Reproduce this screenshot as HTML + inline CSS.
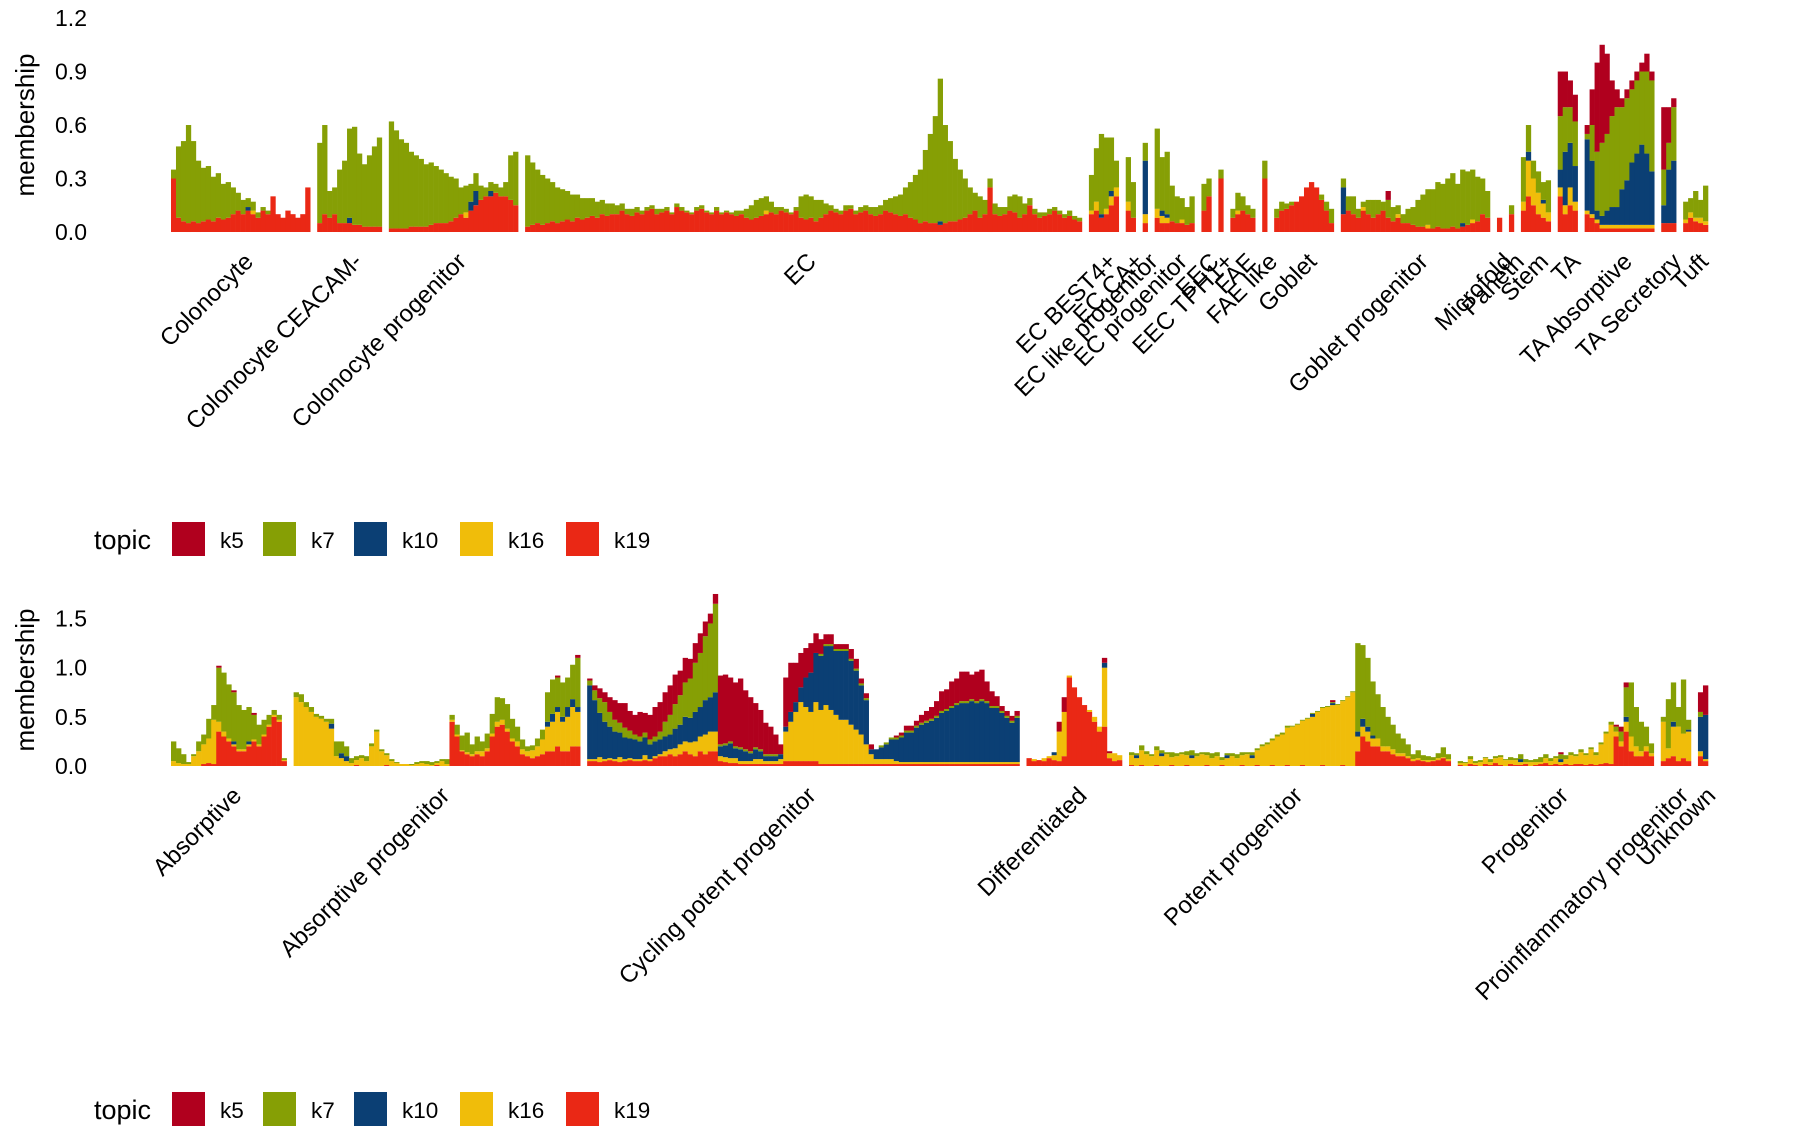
<!DOCTYPE html>
<html><head><meta charset="utf-8"><title>Topic membership by cell type</title>
<style>
html,body{margin:0;padding:0;background:#fff;}
svg{display:block;font-family:"Liberation Sans",Arial,sans-serif;}
</style></head>
<body>
<svg id="chart" width="1800" height="1140" viewBox="0 0 1800 1140" xmlns="http://www.w3.org/2000/svg"></svg>
<script>
// ---------- shared ----------
var topics = ["k5","k7","k10","k16","k19"];
var topicColors = ["#B0001E","#869F05","#0B3F74","#F0BD0A","#EA2815"];

// ---------- top chart data ----------
var topGroups = ["Colonocyte","Colonocyte CEACAM-","Colonocyte progenitor","EC","EC BEST4+","EC CA+","EC like progenitor","EC progenitor","EEC","EEC TPH1+","FAE","FAE like","Goblet","Goblet progenitor","Microfold","Paneth","Stem","TA","TA Absorptive","TA Secretory","Tuft"];
var topCounts = [28,13,26,112,6,2,1,8,2,1,5,1,12,30,1,1,6,4,14,3,5];
var topTicks = [0,0.3,0.6,0.9,1.2];
var topTickLabels = ["0.0","0.3","0.6","0.9","1.2"];
var topK19 = [
0.3,0.08,0.06,0.05,0.06,0.05,0.06,0.07,0.06,0.08,0.07,0.08,0.1,0.12,0.1,0.12,0.1,0.08,0.12,0.1,0.2,0.1,0.08,0.12,0.1,0.08,0.1,0.25,
0.05,0.1,0.08,0.1,0.05,0.05,0.05,0.04,0.04,0.03,0.03,0.03,0.03,
0.02,0.02,0.02,0.02,0.03,0.03,0.03,0.03,0.04,0.05,0.05,0.05,0.06,0.08,0.1,0.08,0.12,0.15,0.18,0.2,0.2,0.22,0.2,0.2,0.18,0.15,
0.03,0.04,0.05,0.04,0.05,0.06,0.05,0.06,0.07,0.06,0.08,0.07,0.08,0.09,0.08,0.1,0.09,0.1,
0.1,0.12,0.1,0.09,0.11,0.1,0.12,0.13,0.1,0.11,0.12,0.1,0.14,0.12,0.11,0.1,0.12,0.13,0.11,0.1,0.12,0.1,0.11,0.1,0.09,0.1,0.08,0.07,0.08,0.09,0.1,0.11,0.1,0.12,0.11,0.1,0.12,
0.08,0.07,0.08,0.06,0.08,0.1,
0.12,0.11,0.1,0.12,0.13,0.1,0.11,0.12,0.1,0.09,0.1,0.12,0.11,0.1,0.09,0.1,0.08,0.07,
0.05,0.06,0.05,0.05,0.04,0.05,0.06,0.06,0.07,0.08,
0.1,0.12,0.08,0.1,0.25,0.1,0.09,0.1,0.12,0.11,0.08,0.1,0.15,0.1,0.08,0.09,0.1,0.12,0.1,0.08,0.09,0.07,0.06,
0.1,0.12,0.08,0.1,0.15,0.2,
0.12,0.08,
0.05,
0.08,0.05,0.05,0.06,0.05,0.05,0.04,0.05,
0.12,0.2,
0.3,
0.08,0.1,0.12,0.1,0.08,
0.3,
0.08,0.12,0.13,0.15,0.17,0.2,0.25,0.28,0.25,0.18,0.12,0.05,
0.1,0.12,0.1,0.08,0.12,0.1,0.08,0.1,0.12,0.08,0.06,0.08,0.05,0.05,0.04,0.03,0.03,0.02,0.02,0.03,0.02,0.02,0.03,0.02,0.03,0.04,0.05,0.06,0.1,0.08,
0.08,
0.1,
0.12,0.2,0.15,0.1,0.08,0.06,
0.2,0.1,0.15,0.12,
0.1,0.08,0.05,0.02,0.02,0.02,0.02,0.02,0.02,0.02,0.02,0.02,0.02,0.02,
0.05,0.05,0.05,
0.05,0.08,0.06,0.05,0.04];
var topK16 = [
0,0,0,0,0,0,0,0,0,0,0,0,0,0,0,0,0.02,0,0,0,0,0,0,0,0,0,0,0,
0,0,0,0,0,0,0,0,0,0,0,0,0,
0,0,0,0,0,0,0,0,0,0,0,0,0,0,0,0.03,0,0,0,0,0,0,0,0,0,0,
0,0,0,0,0,0,0,0,0,0,0,0,0,0,0,0,0,0,
0,0,0,0,0,0,0,0,0,0,0,0,0,0,0,0,0,0,0,0,0,0,0,0,0,0,0,0,0,0,0.02,0,0,0,0,0,0,
0,0,0,0,0,0,
0,0,0,0,0,0,0,0,0,0,0,0,0,0,0,0,0,0,
0,0,0,0,0,0,0,0,0,0,
0,0,0,0,0,0,0,0,0,0,0,0,0,0,0,0,0,0,0,0,0,0,0,
0.02,0.05,0,0.03,0.05,0.05,
0.05,0,
0.05,
0.05,0.04,0.03,0,0,0.02,0,0,
0,0,
0,
0,0.02,0,0,0,
0,
0,0,0,0,0,0,0,0,0,0,0,0,
0,0,0,0,0.02,0,0,0,0,0,0,0.02,0,0,0,0,0,0.02,0,0,0,0,0,0,0,0,0.02,0,0,0,
0,
0,
0.05,0.2,0.15,0.12,0.08,0.05,
0.05,0.05,0.1,0.05,
0.02,0.02,0.02,0.02,0.02,0.02,0.02,0.02,0.02,0.02,0.02,0.02,0.02,0.02,
0,0,0,
0.02,0.03,0.02,0.03,0.02];
var topK10 = [
0,0,0,0,0,0,0,0,0,0,0,0,0,0,0,0.02,0,0,0,0,0,0,0,0,0,0,0,0,
0,0,0,0,0,0,0.03,0,0,0,0,0,0,
0,0,0,0,0,0,0,0,0,0,0,0,0,0,0,0,0.05,0.08,0,0,0.03,0,0,0,0,0,
0,0,0,0,0,0,0,0,0,0,0,0,0,0,0,0,0,0,
0,0,0,0,0,0,0,0,0,0,0,0,0,0,0,0,0,0,0,0,0,0,0,0,0,0,0,0,0,0,0,0,0,0,0,0,0,
0,0,0,0,0,0,
0,0,0,0,0,0,0,0,0,0,0,0,0,0,0,0,0,0,
0,0,0,0,0.02,0,0,0,0,0,
0,0,0,0,0,0,0,0,0,0,0,0,0,0,0,0,0,0,0,0,0,0,0,
0,0,0.02,0,0.03,0,
0,0,
0.3,
0,0.03,0.02,0,0,0,0,0,
0,0,
0,
0,0,0,0,0,
0,
0,0,0,0,0,0,0,0,0,0,0,0,
0.15,0,0,0,0,0,0,0,0,0,0,0,0,0,0,0,0,0,0,0,0,0,0,0,0.02,0,0,0,0,0,
0,
0,
0,0.05,0,0,0.02,0,
0.1,0.3,0.25,0.2,
0.4,0.3,0.05,0.05,0.08,0.1,0.1,0.2,0.25,0.35,0.4,0.45,0.4,0.3,
0.1,0.3,0.35,
0,0,0,0,0];
var topK7 = [
0.05,0.4,0.45,0.55,0.45,0.35,0.3,0.3,0.25,0.25,0.2,0.2,0.15,0.1,0.08,0.05,0.05,0.03,0.02,0.02,0,0,0,0,0,0,0,0,
0.45,0.5,0.15,0.15,0.3,0.35,0.5,0.55,0.4,0.35,0.4,0.45,0.5,
0.6,0.55,0.5,0.48,0.42,0.4,0.38,0.35,0.35,0.32,0.3,0.28,0.25,0.22,0.15,0.15,0.1,0.1,0.08,0.05,0.05,0.05,0.05,0.08,0.25,0.3,
0.4,0.35,0.3,0.28,0.25,0.22,0.2,0.18,0.16,0.15,0.13,0.12,0.11,0.1,0.09,0.08,0.07,0.06,
0.05,0.04,0.03,0.04,0.03,0.02,0.02,0.02,0.03,0.02,0.02,0.01,0.02,0.02,0.01,0.01,0.02,0.02,0.01,0.01,0.02,0.01,0.01,0.01,0.03,0.02,0.05,0.08,0.1,0.1,0.08,0.06,0.04,0.02,0.02,0.01,0.02,
0.12,0.14,0.12,0.12,0.1,0.06,
0.03,0.02,0.02,0.03,0.02,0.02,0.03,0.03,0.04,0.05,0.05,0.06,0.08,0.1,0.12,0.15,0.2,0.25,
0.3,0.4,0.5,0.6,0.8,0.55,0.45,0.35,0.28,0.22,
0.15,0.1,0.12,0.08,0.05,0.06,0.05,0.04,0.08,0.1,0.12,0.06,0.04,0.03,0.03,0.02,0.03,0.02,0.02,0.02,0.03,0.02,0.02,
0.2,0.3,0.45,0.4,0.3,0.15,
0.25,0.2,
0.1,
0.45,0.3,0.35,0.2,0.15,0.12,0.1,0.15,
0.15,0.1,
0.05,
0.05,0.1,0.08,0.05,0.05,
0.1,
0.05,0.05,0.03,0.02,0,0,0,0,0,0.03,0.05,0.08,
0.05,0.08,0.1,0.05,0.03,0.08,0.1,0.08,0.05,0.1,0.08,0.05,0.05,0.08,0.1,0.15,0.18,0.2,0.22,0.25,0.25,0.28,0.3,0.25,0.3,0.3,0.28,0.25,0.2,0.15,
0,
0.05,
0.25,0.15,0.1,0.12,0.1,0.18,
0.3,0.25,0.2,0.25,
0.03,0.2,0.33,0.41,0.43,0.51,0.56,0.46,0.46,0.41,0.41,0.41,0.46,0.51,
0.2,0.15,0.3,
0.1,0.08,0.15,0.1,0.2];
var topK5 = [
0,0,0,0,0,0,0,0,0,0,0,0,0,0,0,0,0,0,0,0,0,0,0,0,0,0,0,0,
0,0,0,0,0,0,0,0,0,0,0,0,0,
0,0,0,0,0,0,0,0,0,0,0,0,0,0,0,0,0,0,0,0,0,0,0,0,0,0,
0,0,0,0,0,0,0,0,0,0,0,0,0,0,0,0,0,0,
0,0,0,0,0,0,0,0,0,0,0,0,0,0,0,0,0,0,0,0,0,0,0,0,0,0,0,0,0,0,0,0,0,0,0,0,0,
0,0,0,0,0,0,
0,0,0,0,0,0,0,0,0,0,0,0,0,0,0,0,0,0,
0,0,0,0,0,0,0,0,0,0,
0,0,0,0,0,0,0,0,0,0,0,0,0,0,0,0,0,0,0,0,0,0,0,
0,0,0,0,0,0,
0,0,
0,
0,0,0,0,0,0,0,0,
0,0,
0,
0,0,0,0,0,
0,
0,0,0,0,0,0,0,0,0,0,0,0,
0,0,0,0,0,0,0,0,0,0.05,0,0,0,0,0,0,0,0,0,0,0,0,0,0,0,0,0,0,0,0,
0,
0,
0,0,0,0,0,0,
0.25,0.2,0.15,0.15,
0.05,0.2,0.5,0.55,0.45,0.2,0.1,0.05,0.05,0.05,0.05,0.05,0.1,0.05,
0.35,0.2,0.05,
0,0,0,0,0];

// ---------- bottom chart data ----------
var botGroups = ["Absorptive","Absorptive progenitor","Cycling potent progenitor","Differentiated","Potent progenitor","Progenitor","Proinflammatory progenitor","Unknown"];
var botCounts = [23,57,86,19,64,39,6,2];
var botTicks = [0,0.5,1.0,1.5];
var botTickLabels = ["0.0","0.5","1.0","1.5"];
var botK19 = [
0,0,0,0,0,0,0.02,0.03,0.02,0.35,0.3,0.25,0.2,0.15,0.15,0.2,0.25,0.2,0.3,0.4,0.5,0.45,0.05,
0,0,0,0,0,0,0,0,0,0,0,0,0.01,0,0,0,0,0,0.01,0,0,0,0,0,0,0,0,0,0.01,0,0,
0.45,0.3,0.15,0.12,0.1,0.12,0.1,
0.15,0.3,0.4,0.42,0.35,0.25,0.2,0.12,
0.1,0.08,0.1,0.12,
0.15,0.15,0.2,0.15,0.15,0.2,0.2,
0.05,0.05,0.04,0.05,0.06,0.05,0.04,0.05,0.06,0.05,0.05,0.06,0.05,0.08,0.1,
0.1,0.12,0.1,0.12,0.15,0.12,0.1,0.15,0.12,0.15,0.15,
0.05,0.04,0.03,0.03,0.02,0.02,0.02,0.02,0.02,0.02,0.02,0.02,
0.02,
0.05,0.05,0.05,0.05,0.05,0.05,0.05,
0.02,0.02,0.02,0.02,0.02,0.02,0.02,0.02,0.02,0.02,
0.02,0.02,
0.02,0.02,0.02,0.02,0.02,0.02,0.02,0.02,0.02,0.02,0.02,0.02,0.02,0.02,0.02,0.02,0.02,0.02,0.02,0.02,0.02,0.02,0.02,0.02,0.02,0.02,0.02,0.02,
0.08,0.05,0.06,0.05,0.08,0.06,0.05,0.1,0.9,0.8,0.7,0.62,0.55,0.45,0.35,0.4,0.08,0.05,0.06,
0.01,0,0.01,0,0,0.01,0,0,0.01,0,0,0.01,0,0,0,0.01,0,0,0.01,0,0,0,0.01,0,0,0.01,
0,0,0.01,0,0,0.01,
0,0,0.01,0,0,0,0.01,0,0,0,0.01,0,0,
0.15,0.3,0.25,0.2,
0.2,0.15,0.15,0.12,0.1,0.1,0.08,
0.05,0.06,0.05,0.04,0.05,0.06,0.08,0.05,
0.01,0,0.02,0.01,0,0.02,0.01,0.03,0.01,0,0.02,0.01,0.01,0.02,0,0.01,0.02,0.03,0.01,0.02,0.01,0.02,0.01,0.02,0.02,0.01,0.02,0.01,
0.02,0.03,0.02,
0.3,0.2,0.35,0.15,0.1,0.1,0.15,0.1,
0.05,0.08,0.1,0.05,0.08,0.05,
0.1,0.05];
var botK16 = [
0.05,0.03,0.02,0.02,0.1,0.15,0.2,0.25,0.45,0.1,0.05,0.03,0.02,0.02,0.02,0.02,0.02,0.02,0.02,0.02,0.02,0.02,0.01,
0.7,0.65,0.6,0.55,0.5,0.48,0.45,0.38,
0.1,0.08,0.05,
0.03,0.05,0.08,0.05,0.2,0.35,0.15,0.1,0.05,0.03,0.02,0.02,0.01,0.02,0.03,0.02,0.01,0.02,0.05,0.02,
0.02,0.02,0.01,0.02,0.02,0.03,0.05,
0.03,0.03,0.05,0.05,0.03,0.03,0.05,0.05,
0.05,0.08,0.1,0.15,
0.25,0.3,0.35,0.3,0.35,0.4,0.35,
0.02,0.02,0.05,0.02,0.02,0.02,0.05,0.02,0.02,0.02,0.02,0.05,0.02,0.02,0.02,
0.05,0.05,0.08,0.1,0.1,0.12,0.15,0.15,0.2,0.2,0.2,
0.05,0.05,0.05,0.05,0.03,0.03,0.03,0.05,0.05,0.03,0.03,0.03,
0.05,
0.3,0.4,0.5,0.6,0.55,0.5,0.6,
0.55,0.6,0.55,0.5,0.45,0.45,0.4,0.35,0.3,0.2,
0.1,0.05,
0.05,0.05,0.05,0.03,0.02,0.02,0.02,0.02,0.02,0.02,0.02,0.02,0.02,0.02,0.02,0.02,0.02,0.02,0.02,0.02,0.02,0.02,0.02,0.02,0.02,0.02,0.02,0.02,
0,0.02,0,0.03,0.02,0.05,0.3,0.45,0.02,0,0,0,0.02,0.05,0.05,0.6,0.05,0.08,0.05,
0.1,0.08,0.15,0.12,0.1,0.15,0.1,0.12,0.08,0.1,0.12,0.1,0.08,0.1,0.12,0.1,0.08,0.1,0.05,0.08,0.1,0.08,0.1,0.12,0.08,0.15,
0.2,0.22,0.25,0.3,0.32,0.38,
0.4,0.42,0.45,0.48,0.5,0.55,0.58,0.6,0.62,0.62,0.65,0.7,0.75,
0.15,0.1,0.1,0.08,
0.08,0.05,0.05,0.05,0.03,0.03,0.02,
0.02,0.02,0.01,0.02,0.01,0.02,0.01,0.02,
0.02,0.03,0.05,0.02,0.04,0.06,0.03,0.05,0.08,0.06,0.04,0.05,0.03,0.02,0.04,0.03,0.02,0.05,0.04,0.06,0.03,0.05,0.1,0.08,0.12,0.1,0.15,0.1,
0.2,0.3,0.4,
0.05,0.05,0.1,0.15,0.1,0.05,0.05,0.03,
0.4,0.1,0.3,0.35,0.25,0.3,
0.05,0.02];
var botK10 = [
0,0,0,0,0,0,0,0,0,0,0,0,0.03,0,0,0.03,0,0,0,0,0,0,0,
0,0,0,0,0,0,0,0.05,
0,0.05,0.05,
0,0,0,0,0,0,0,0,0,0,0,0,0,0,0,0,0,0,0,0,
0,0,0,0,0,0,0,
0,0,0,0,0,0,0,0,
0,0,0,0,
0.05,0.08,0.05,0.05,0.1,0.08,0.05,
0.75,0.6,0.45,0.38,0.32,0.28,0.25,0.22,0.2,0.2,0.18,0.18,0.15,0.15,0.15,
0.15,0.15,0.2,0.2,0.25,0.25,0.3,0.3,0.35,0.35,0.4,
0.1,0.12,0.15,0.1,0.12,0.1,0.08,0.1,0.08,0.05,0.05,0.05,
0.05,
0.05,0.1,0.1,0.15,0.3,0.4,0.5,
0.55,0.6,0.65,0.65,0.7,0.7,0.65,0.6,0.5,0.45,
0.05,0.1,
0.12,0.15,0.2,0.22,0.25,0.3,0.3,0.35,0.38,0.4,0.42,0.45,0.5,0.52,0.55,0.58,0.6,0.6,0.62,0.6,0.62,0.6,0.55,0.55,0.5,0.45,0.4,0.45,
0,0,0,0,0,0.03,0,0,0,0,0,0,0,0,0,0.05,0,0,0,
0,0.03,0,0,0,0,0.03,0,0,0,0,0,0.03,0,0,0,0,0,0,0.03,0,0,0,0,0.03,0,
0,0,0,0,0,0,
0,0,0,0,0.03,0,0,0,0.02,0,0,0,0,
0.05,0.08,0.05,0.03,
0,0,0,0,0,0,0,
0,0,0,0,0,0,0,0,
0,0,0,0,0,0,0,0,0,0,0,0,0.03,0,0,0,0,0,0,0,0.03,0,0,0,0,0,0,0,
0,0,0,
0,0,0.05,0,0,0,0,0,
0,0,0.05,0,0,0.02,
0.35,0.45];
var botK7 = [
0.2,0.15,0.1,0.02,0.02,0.1,0.1,0.2,0.15,0.55,0.6,0.55,0.5,0.45,0.4,0.35,0.25,0.2,0.15,0.1,0.05,0.05,0.02,
0.05,0.08,0.05,0.05,0.03,0.03,0.03,0.05,
0.15,0.12,0.1,
0.05,0.04,0.03,0.05,0.03,0.02,0.02,0.02,0.02,0.01,0,0,0.01,0.02,0.02,0.03,0.03,0.02,0.02,0.05,
0.05,0.1,0.15,0.2,0.1,0.15,0.1,
0.15,0.2,0.25,0.22,0.25,0.2,0.15,0.1,
0.05,0.05,0.08,0.1,
0.3,0.35,0.3,0.35,0.3,0.35,0.5,
0.05,0.1,0.15,0.2,0.15,0.12,0.1,0.1,0.08,0.05,0.05,0.05,0.05,0.05,0.08,
0.15,0.2,0.25,0.3,0.35,0.4,0.5,0.55,0.65,0.75,0.9,
0.02,0.02,0.02,0.02,0.02,0.02,0.02,0.02,0.02,0.02,0.02,0.02,
0,
0,0,0,0,0,0,0,
0.02,0.02,0.02,0.02,0.02,0.02,0.02,0.02,0.02,0.02,
0,0,
0.02,0.02,0.02,0.02,0.02,0.02,0.02,0.02,0.02,0.02,0.02,0.02,0.02,0.02,0.02,0.02,0.02,0.02,0.02,0.02,0.02,0.02,0.02,0.02,0.02,0.02,0.02,0.02,
0,0,0,0,0,0,0,0,0,0,0,0,0,0,0,0,0,0,0,
0.03,0.02,0.05,0.03,0.02,0.04,0.03,0.02,0.05,0.03,0.02,0.04,0.05,0.03,0.02,0.03,0.05,0.04,0.03,0.02,0.03,0.04,0.03,0.02,0.03,0.02,
0.02,0.02,0.02,0.02,0.02,0.02,
0.01,0.01,0.01,0.01,0.01,0.01,0.01,0.01,0.01,0.01,0.01,0.01,0.01,
0.9,0.75,0.7,0.55,
0.45,0.4,0.3,0.25,0.2,0.15,0.12,
0.05,0.08,0.05,0.04,0.03,0.05,0.1,0.05,
0.02,0.01,0.03,0.02,0.02,0.01,0.03,0.02,0.02,0.01,0.03,0.02,0.05,0.03,0.02,0.03,0.05,0.04,0.03,0.02,0.05,0.04,0.03,0.02,0.03,0.02,0.02,0.03,
0.02,0.02,0.03,
0.05,0.1,0.3,0.55,0.4,0.3,0.2,0.1,
0.05,0.5,0.4,0.2,0.55,0.1,
0.05,0];
var botK5 = [
0,0,0,0,0,0,0,0,0,0.02,0,0,0.02,0,0,0,0.02,0,0,0,0,0,0,
0,0,0,0,0,0,0,0,
0,0,0,
0,0,0,0,0,0,0,0,0,0,0,0,0,0,0,0,0,0,0,0,
0,0,0,0,0,0,0,
0,0,0,0,0,0,0,0,
0,0,0,0,
0,0,0.02,0,0,0,0.03,
0.02,0.05,0.1,0.1,0.15,0.2,0.2,0.25,0.2,0.2,0.25,0.2,0.25,0.3,0.3,
0.3,0.3,0.3,0.25,0.25,0.2,0.2,0.2,0.15,0.1,0.1,
0.7,0.7,0.65,0.65,0.7,0.6,0.55,0.45,0.4,0.32,0.28,0.2,
0.1,
0.5,0.5,0.4,0.35,0.3,0.3,0.2,
0.15,0.1,0.1,0.05,0.05,0.05,0.1,0.1,0.05,0.05,
0.05,0,
0,0,0,0.02,0.03,0.05,0.05,0.05,0.08,0.1,0.12,0.15,0.2,0.2,0.25,0.25,0.3,0.3,0.25,0.3,0.3,0.2,0.15,0.1,0.05,0.05,0.05,0.05,
0,0,0,0,0,0,0.1,0.15,0,0,0,0,0,0,0,0.05,0.02,0,0,
0,0,0,0,0,0,0,0,0,0,0,0,0,0,0,0,0,0,0,0,0,0,0,0,0,0,
0,0,0,0,0,0,
0,0,0,0,0,0,0,0,0.02,0,0,0,0,
0,0,0,0,
0,0,0,0,0,0,0,
0,0,0,0,0,0,0,0,
0,0,0,0,0,0,0,0,0,0,0,0,0,0,0,0,0,0,0,0,0.02,0,0,0,0,0,0,0,
0,0,0,
0.02,0.05,0.05,0,0,0,0,0,
0,0,0,0,0,0,
0.2,0.3];

// ---------- rendering ----------
var NS = "http://www.w3.org/2000/svg";
var svg = document.getElementById("chart");
function mk(tag, attrs, parent){
  var e = document.createElementNS(NS, tag);
  for (var k in attrs) e.setAttribute(k, attrs[k]);
  (parent || svg).appendChild(e);
  return e;
}
var X0 = 171, X1 = 1708, GAP = 7;

function drawPanel(cfg){
  var g = mk("g", {});
  
  
  var total = 0; cfg.counts.forEach(function(c){ total += c; });
  var unit = (X1 - X0 - GAP * (cfg.counts.length - 1)) / total;
  function yScale(v){ return cfg.base - v * cfg.pxPerUnit; }
  var series = [cfg.k19, cfg.k16, cfg.k10, cfg.k7, cfg.k5];
  var seriesColor = [topicColors[4], topicColors[3], topicColors[2], topicColors[1], topicColors[0]];
  var seriesName = ["k19","k16","k10","k7","k5"];
  var idx = 0, x = X0;
  cfg.counts.forEach(function(cnt, gi){
    var gx0 = x;
    var gg = mk("g", {}, g);
    
    
    for (var j = 0; j < cnt; j++){
      var cum = 0;
      for (var s = 0; s < series.length; s++){
        var v = series[s][idx] || 0;
        if (v > 0){
          var r = mk("rect", {x: (x + j*unit).toFixed(2), y: yScale(cum + v).toFixed(2),
            width: (unit + 0.3).toFixed(2), height: (v * cfg.pxPerUnit).toFixed(2), fill: seriesColor[s]}, gg);
          
          
        }
        cum += v;
      }
      idx++;
    }
    x += cnt * unit;
    var cx = (gx0 + x) / 2;
    var t = mk("text", {x: (cx + 14).toFixed(1), y: cfg.base + 31, "text-anchor": "end",
      "font-size": 24, fill: "#000",
      transform: "rotate(-45 " + (cx + 14).toFixed(1) + " " + (cfg.base + 31) + ")"}, g);
    
    
    t.textContent = cfg.groups[gi];
    x += GAP;
  });
  cfg.ticks.forEach(function(tv, i){
    var tl = mk("text", {x: 87, y: (yScale(tv) + 8).toFixed(1), "text-anchor": "end", "font-size": 23, fill: "#000"}, g);
    
    
    tl.textContent = cfg.tickLabels[i];
  });
  var at = mk("text", {x: 34, y: cfg.titleY, "text-anchor": "middle", "font-size": 26, fill: "#000",
    transform: "rotate(-90 34 " + cfg.titleY + ")"}, g);
  
  
  at.textContent = "membership";
}

function drawLegend(y){
  var lg = mk("g", {});
  
  
  var tt = mk("text", {x: 94, y: y + 27, "font-size": 27, fill: "#000"}, lg);
  
  
  tt.textContent = "topic";
  var keyX = [172, 263, 354, 460, 566];
  topics.forEach(function(tp, i){
    var e = mk("g", {}, lg);
    
    
    mk("rect", {x: keyX[i], y: y, width: 33, height: 34, fill: topicColors[i]}, e);
    var lt = mk("text", {x: keyX[i] + 48, y: y + 26, "font-size": 22.5, fill: "#000"}, e);
    lt.textContent = tp;
  });
}

drawPanel({name: "top-panel", groups: topGroups, counts: topCounts, base: 232, pxPerUnit: 178.3,
  ticks: topTicks, tickLabels: topTickLabels, titleY: 125,
  k5: topK5, k7: topK7, k10: topK10, k16: topK16, k19: topK19});
drawLegend(522);
drawPanel({name: "bottom-panel", groups: botGroups, counts: botCounts, base: 766, pxPerUnit: 98.3,
  ticks: botTicks, tickLabels: botTickLabels, titleY: 680,
  k5: botK5, k7: botK7, k10: botK10, k16: botK16, k19: botK19});
drawLegend(1092);
</script>
</body></html>
